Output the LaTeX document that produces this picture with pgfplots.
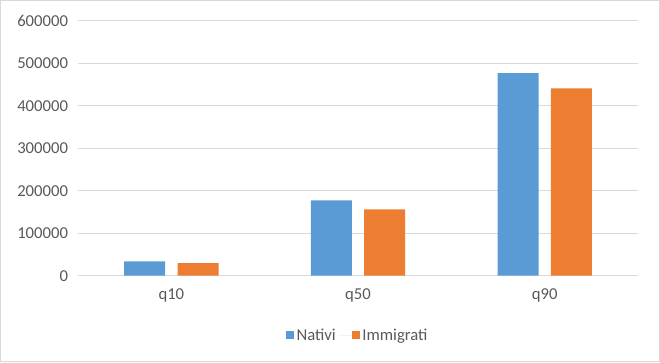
\documentclass[border=0pt]{standalone}
\usepackage{pgfplots}
\pgfplotsset{compat=1.18}
\usepackage{fontspec}
\setmainfont{Carlito}
\definecolor{nativi}{HTML}{5B9BD5}
\definecolor{immig}{HTML}{ED7D31}
\definecolor{gridc}{HTML}{D9D9D9}
\definecolor{txt}{HTML}{595959}
\begin{document}
\begin{tikzpicture}
\path[use as bounding box] (0,0) rectangle (495pt,271.5pt);
\draw[gridc, line width=0.75pt] (0.375pt,0.375pt) rectangle (494.625pt,271.125pt);
\begin{axis}[
  at={(58.5pt,64.7pt)}, anchor=south west,
  scale only axis, width=420pt, height=191.25pt,
  ymin=0, ymax=600000, ytick={0,100000,...,600000},
  xmin=-0.5, xmax=2.5, xtick={0,1,2}, xticklabels={q10,q50,q90},
  scaled y ticks=false,
  /pgf/number format/fixed, /pgf/number format/precision=0,
  /pgf/number format/1000 sep={}, /pgf/number format/assume math mode=true,
  yticklabel style={text=txt, font=\fontsize{12.5}{15}\selectfont, xshift=-4pt},
  xticklabel style={text=txt, font=\fontsize{12.5}{15}\selectfont, yshift=-6pt},
  ymajorgrids, grid style={gridc, line width=0.75pt},
  axis line style={draw=none},
  major tick length=0pt,
  ybar, bar width=30.75pt,
  legend style={at={(0.5,-0.185)}, anchor=north, draw=none, fill=none,
    legend columns=2, font=\fontsize{12.5}{15}\selectfont, text=txt},
  legend image code/.code={\fill[#1] (0pt,-3pt) rectangle (6pt,3pt);},
]
\addplot[fill=nativi, draw=none, bar shift=-20pt] coordinates {(0,33700) (1,177300) (2,476900)};
\addplot[fill=immig, draw=none, bar shift=20pt,
  legend image code/.code={\path (-10pt,0pt) -- (0pt,0pt); \fill[immig] (0pt,-3pt) rectangle (6pt,3pt);}]
  coordinates {(0,29800) (1,156100) (2,440800)};
\legend{Nativi, Immigrati}
\end{axis}
\end{tikzpicture}
\end{document}
